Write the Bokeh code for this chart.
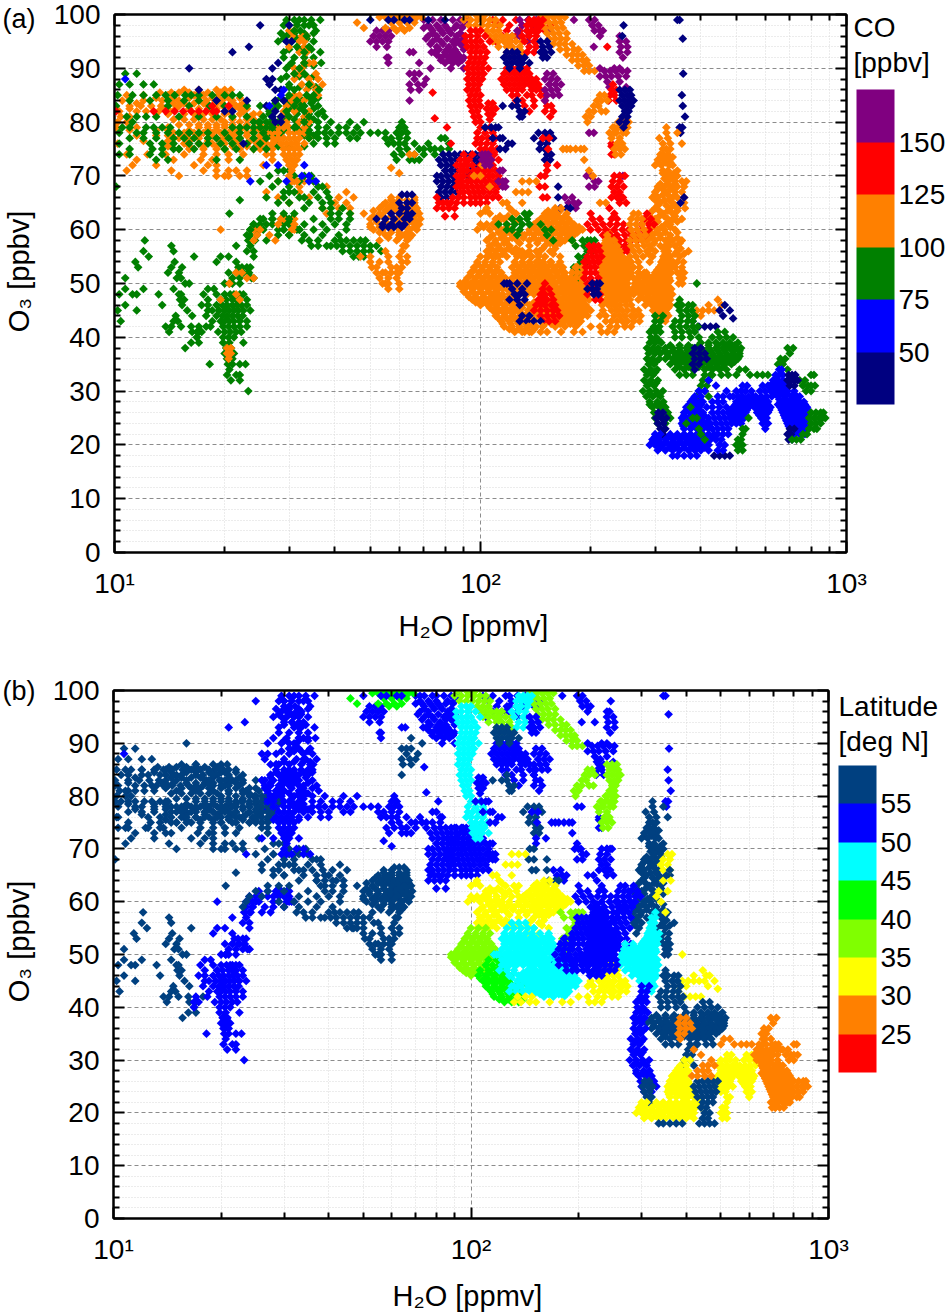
import math
from bokeh.plotting import figure
from bokeh.layouts import column
from bokeh.embed import file_html
from bokeh.resources import INLINE
from bokeh.models import (ColumnDataSource, LinearColorMapper, ColorBar, FixedTicker, LinearAxis, LogAxis, Label)
from bokeh.transform import transform

# Readings: each track has a CO value [ppbv], a latitude [deg N]
# and rows of (O3 [ppbv], [H2O ppmv, ...]).
left_fill = [(85.5,[13.3,14.3,15,16,17,18,19.5]),(84.5,[13,14.5,16,17,18.5,20,20.5,22]),(83.5,[11.5,14.5,15.5,16.5,17.5,19,21,22.5]),(82.5,[11,13.7,14.7,16,17,18,19,21,22,23]),(81.5,[14,15.5,16.5,17.5,18.5,20,22,24,25]),(80.5,[14.5,15.5,16.5,17.5,18.5,19.5,21,23,24]),(79.5,[15,16,17,18,19,20,21,23,25,27]),(78.5,[11,13,14,16,18,19,21,22,24,25,27]),(77.5,[11.5,13,14,15.5,17,18.5,20,21,23,25,27]),(76.5,[12,14,16,18,19.5,21.5,23.5,25.5,27.5]),(75.5,[14,16,17.5,19,21,23,25,27])]
column_fill = [(98,[29,31.5,34]),(96.5,[28.5,31,33,35]),(95.5,[29,31.5,33.5]),(93.5,[30,32,34.5]),(92,[29,31,33,35]),(90.5,[30,33,35]),(88.5,[29.5,32,33.5,35]),(86.5,[30,32,34,35.5]),(84.5,[28.5,30,32,34,36]),(83.5,[27.5,30,32,34.5]),(82.5,[27.5,30,32,35]),(81.5,[26.5,29,31.5,34,36]),(80.5,[27,29,31,33,35]),(79.5,[26.5,29,31.5,34]),(78.5,[27,29,32,34]),(77.5,[27,28.5,33,35]),(75.5,[28,30,33])]
blob60_fill = [(65.5,[57,60,63,66]),(64.5,[54,57,60,63,66]),(63.5,[51,55,58,61,64,67]),(62.5,[51,54,57,60,63,66]),(61.5,[52,55,58,61,64,67]),(60.5,[50,53,60,63,66]),(59.5,[53,57,60,63]),(58.5,[56,60,64])]
big_purple_fill = [(97.5,[70,73,77,81,85,89]),(96.5,[74,79,83,88]),(95.5,[71,76,81,86,90]),(94.5,[73,79,85,88]),(93.5,[77,81,85,90]),(92.5,[76,80,84,87]),(91.5,[78,82,86,89])]
low_cyan_fill = [(53.5,[125,131,137,143,149,156,164]),(52.5,[127,133,139,145,151,158,166]),(51.5,[125,131,137,143,149,155,162,169]),(50.5,[127,133,139,145,151,157,164,172]),(49.5,[123,129,135,141,147,153,160,168]),(48.5,[125,131,137,143,153,159,166,174]),(47.5,[158,163,169,176,185]),(46.5,[125,132,140,147,153,159,166,174,182,190]),(45.5,[130,139,145,151,157,163,169,175,182,189,196]),(44.5,[135,142,149,155,161,167,173,180,187,193]),(43.5,[136,144,152,159,166,173,179,185]),(42.5,[150,156,165,176,185])]
low_blue_fill = [(59.5,[225]),(58.5,[223,229]),(57.5,[219,225,232]),(56.5,[220,228,236]),(55.5,[219,225,232,240]),(54.5,[216,224,232,240,248]),(53.5,[186,218,226,234,242,250]),(52.5,[180,187,216,224,232,240,248]),(51.5,[179,185,218,226,234,242,250]),(50.5,[176,184,216,224,232,240,248]),(49.5,[172,180,188,210,218,226,234,242,250]),(48.5,[172,180,188,218,226,234,242,252]),(47.5,[180,188,195,224,232,240,248]),(46.5,[218,228])]
cyan_right_fill = [(55.5,[320]),(54.5,[316,324]),(53.5,[312,320,329]),(52.5,[304,316,326]),(51.5,[274,286,298,310,322]),(50.5,[270,282,294,306,318,330]),(49.5,[266,278,290,302,314,326]),(48.5,[268,280,292,304,316,328]),(47.5,[276,288,300,312,324]),(46.5,[288,300,312,324]),(45.5,[302,314,326]),(44.5,[310,322])]
steel_fill = [(75,[315,322,330]),(73.5,[312,326,335]),(72.5,[306,320,330]),(70.5,[315,328,338]),(69.5,[318,332]),(68.5,[310,325,340]),(67.5,[305,315,330]),(66.5,[300,315,325]),(65.5,[300,318,328]),(64.5,[305,322,340]),(63.5,[295,308,325,345]),(62.5,[290,308,318,340]),(61.5,[288,305,330,345]),(60.5,[295,312,330]),(59.5,[290,302,320,345]),(58.5,[292,310,328,345]),(57.5,[298,325,350]),(56.5,[292,318,352]),(55.5,[288,340,360])]
low_yellow_fill = [(63.5,[103,122,153,159,165]),(62.5,[113,119,149,155,162,170]),(61.5,[112,125,143,152,160,168,176]),(60.5,[102,110,118,140,147,154,162,170,178,186]),(59.5,[112,120,128,136,144,152,160,168,176,184]),(58.5,[106,114,122,131,140,148,156,165,174]),(57.5,[109,116,128,143,155,165]),(56.5,[107,113,119,125,148,160]),(55.5,[106,110,115,125,134,144,158])]
low_lime_fill = [(53.5,[98,103,108]),(52.5,[96,101,106,111]),(51.5,[94,99,104,109,114]),(50.5,[91,96,101,106,111,116]),(49.5,[88,92,97,102,107,112,117]),(48.5,[90,95,100,105,110]),(47.5,[93,97,102,107]),(46.5,[97,102,107])]
low_green_fill = [(47.5,[109,115,121]),(46.5,[107,113,119,125]),(45.5,[106,111,117,123]),(44.5,[111,117,123,129]),(43.5,[112,118,124,130,136]),(42.5,[115,121,127,133,139]),(41.5,[120,127,133,140])]
steel_green_fill = [(38.5,[330,350,370,395,420,445,470,495]),(37.5,[318,335,350,368,385,405,425,445,465,490,510]),(36.5,[325,345,360,375,395,415,435,455,475,495,510]),(35.5,[340,355,375,395,415,435,455,475,495]),(34.5,[350,370,395,420,440,460])]
bottom_yellow_fill = [(28.5,[380,395,510,525,545,580,600]),(27.5,[372,388,400,498,512,528,548,565,585,605]),(26.5,[368,382,397,485,500,518,535,575,595,615]),(25.5,[360,378,392,408,485,500,520,578,598]),(24.5,[358,372,388,405,495,510,595]),(23.5,[358,378,395,412]),(21.5,[300,312,326,340,355,370,385,400,415,430]),(20.5,[296,308,322,338,352,368,382,398,412]),(19.5,[310,328,342,360,378,392,410])]
bottom_orange_fill = [(31.5,[635,655,675]),(30.5,[625,645,665,685]),(29.5,[640,660,690,720]),(28.5,[655,675,705,730]),(27.5,[650,675,700,725,750,770]),(26.5,[665,690,715,740,765,785]),(25.5,[675,700,725,750,775]),(24.5,[685,710,735,760,785]),(23.5,[695,720,745,770]),(22.5,[710,735,760])]
column_right_fill = [(41.5,[295,305]),(39.5,[295,306]),(37.5,[290,305]),(35.5,[290,302]),(33.5,[288,300]),(31.5,[290,302]),(29.5,[290,304]),(27.5,[290,302,314]),(25.5,[305,322])]
left_scatter = [(58,[12.1]),(57,[14.3]),(56,[12,14.5]),(55,[12.4,16.5]),(54,[11.4,14.6]),(53,[11.6,14.3,15.3]),(52,[14,15]),(51,[10.7,14.8,15.2]),(50,[15.6,16]),(49,[10.7,12,14.5]),(48,[10.3,11.2,11.5,13.2,15,15.2]),(47,[15.1,15.5]),(46,[10.7,13.5,15.3]),(45,[10.2,11.5,15.8]),(44,[14.7,16.3]),(43,[10.4,14.5,14.9]),(42,[13.8,14.3,15.2,16.2,17.8]),(41,[14.1,16.3,17]),(40,[16.8]),(39,[16.2,17]),(38,[15.6]),(68,[10.1])]
left_orange = [(86,[15.5,17,19,20,20.8]),(85,[10.8,12,14,16.5,17.5,19.2,20.3]),(84,[10.5,12,13.5,15,17.8,19.5,21]),(83,[11,11.8,12.6,13.4,15,18,19.8,21.5,22]),(82,[10.3,11.5,12.2,13.2,14.2,20.5,22.5]),(81,[10.4,11,21,23,23.5]),(80,[10.2,10.8,20,22]),(79,[10.1,11.5,14,17,18,19,20,21,22,22.8,26,28,29]),(78,[14.5,15.5,16.5,17.5,18.5,19.5,20.5,21.5,23,24,26,27,28]),(77,[15,16,17,18,19,20,21,22,24,25,26,27,28]),(76,[10.2,15.5,17,18.5,20,21,22,23,24.5,26,27]),(75,[15,16,17.5,19,20,22,24,25,26,27]),(74,[10.8,12.3,13.8,15.5,17.5,19,20.5,22.5,26,27]),(73,[11.5,14.5,17.2,18.5,20.5,27]),(72,[11.2,13,16.5,18,19,25.5]),(71,[10.8,14.3,17.5,19,20.5,21.5,23]),(70,[15,19,20,20.5,22,23])]
left_green = [(89,[10.7,11.5]),(87,[10.3,11,12,12.8]),(85,[10.2,11.2,12,13,13.8,14.6,15.6,16.2,17,18.5,20,21,22]),(84,[11,12.5,14,15.5,17,19]),(83,[10.1,14,16,18.2,20,23,25]),(81,[10.8,11.5,12.2,13,15,17,19,21,23,25.5]),(80,[11.2,24,24.8,25,26,27]),(79,[10.5,11,12.2,12.8,13.5,14.2,21,22,23,24,25,26,27]),(78,[10.3,11.5,12,13,14,15,16,17,18,20,22,24,25.5]),(77,[11,12,13,14.5,15.5,16.5,18,19,20.5,22,24,26]),(76,[10.3,12.5,13.5,14.5,16,17,18,19.5,21,23,25]),(75,[11,12.7,13.5,14.5,15,16.5,20,21.5,24,26]),(74,[10.3,11,12.5,13.5]),(73,[13,14,19,22])]
left_red = [(82,[12.8,13.8,14.6,15.4,16.2,17,17.8,18.6,19,10.1]),(83,[18.5,20.5])]
left_navy = [(90,[16]),(86,[17]),(84,[19,23]),(82,[20,21]),(76,[22.5])]
column_navy = [(98,[25,30]),(95,[30.5,29.5]),(94,[23.3]),(93,[21]),(91,[28]),(90,[27]),(88,[26,27]),(87,[26.5]),(86,[27.5,28.5]),(84,[27.5,29]),(83,[26]),(82,[27.5]),(81,[27,28.5]),(80,[27.5,28.5])]
column_green = [(99,[29.5,31,32,33,34.5,36.5]),(98,[30,33,35]),(97,[31,32.2,35.5]),(96,[29.5,33.5]),(95,[28,30.5,35]),(94,[31.5,34]),(93,[29,33,36.5]),(91,[30.5,33,36.7]),(90,[29.5,32]),(89,[31,33]),(88,[28.5]),(87,[30,34]),(86,[28.5,31,36.2]),(85,[30,33.5,35]),(84,[27.5,29,31.5,35]),(83,[26,28,31,33,36]),(82,[26.5,29.5,33,37]),(81,[27,30,34,37.5]),(80,[28,33,36,39]),(79,[27,31,36,38])]
column_orange = [(97,[30,31]),(96,[30.5,32.5,33.5]),(95,[32,33]),(94,[30,33]),(93,[32,33.5]),(91,[33,34,35]),(90,[31,32.5]),(89,[31,32,35.5]),(88,[31,34,36]),(87,[32.5,34.5,37]),(86,[33.5,35.5]),(85,[31,32,36]),(84,[30.5,31.5,33]),(83,[29.5,31]),(82,[29,31,34]),(81,[28.5,30,33]),(80,[27.5,29.5,32,34]),(79,[28,30,33]),(78,[28,30,31,32,33]),(77,[29,30,31,32,34]),(76,[28.5,29.5,30.5,31.5,33]),(75,[29,30,31,32]),(74,[29,30,31,32]),(73,[29.5,30.5,31.5]),(72,[30,31]),(71,[30.5]),(70,[30]),(69,[30.5,31.5])]
column_blue = [(88,[10.7]),(86,[29]),(83,[26.5]),(72,[26,28,33]),(69,[23.5,29.5,34,35.5]),(70,[32.5,34]),(85,[28.5])]
band78 = [(80,[44,48,61]),(79,[41,43,46,60,62]),(78,[34,36,37.5,39,41,43,45,47,50,52.5,55,59,61,63]),(77,[34,36,38,40,44,46,55,57,60,63,78,80]),(76,[35,38,40,56,58,60,62,66,72,82]),(75,[60,63,68,70,73,75,78,82]),(74,[58,61,66,70,75]),(73,[59,64,66,68])]
band78_orange = [(74,[64,66]),(71.5,[57]),(70.5,[60])]
band78_red = [(80.7,[75]),(79,[81]),(85.5,[74]),(76,[83])]
x20_link = [(62,[25.5,27,28.5,29.5,30.5]),(61,[24,25,27,29,30]),(60,[23.5,24.5,25.5,28,29,31.5,32]),(59,[23.5,24.5,28,30]),(58,[23.2,24.2,26]),(57,[21.5,23.5]),(56,[23,24]),(55,[19.5,20.5,24]),(54,[19,21.5])]
x20_link_orange = [(60,[19.5,24,25,30.5,31]),(59,[24.5,26.5]),(58,[24,27.5]),(62,[28.5,29,31]),(61,[28,31])]
x20_cluster = [(53,[21.8,22.3,23,23.5]),(52,[20.5,21.5,22.5,23.3]),(51,[21,22,23.7,24]),(50,[20,20.6,21,22]),(49,[18,18.7]),(48,[17.5,19,20,20.7,21.2,22,22.5]),(47,[18,19.5,20.2,21,21.5,22,23]),(46,[17.3,18,19,19.7,20.3,21,21.6,22.2,23]),(45,[18,18.5,19.3,20,20.6,21.2,21.8,22.5,23.5]),(44,[17.8,19,19.7,20.3,21,21.7,22.4]),(43,[18.5,19.5,20,20.6,21.2,22,23]),(42,[17,18.3,19.8,20.5,21.2,22,23]),(41,[16.8,17.3,19.2,20,20.7,21.5,22.2]),(40,[16.8,19.8,20.5,21.2]),(39,[19.8,20.6,22.5]),(38,[20.2,20.8]),(37,[20,20.6,21.2]),(36,[20.3,21]),(35,[18.2,20.4,21,22,22.8]),(34,[20.6]),(33,[20.3,21.5,22]),(32,[20.8,22]),(30,[23.2])]
x20_orange = [(52,[21.5,22.3]),(51,[23,24]),(50,[20.6]),(48,[21.5]),(47,[19.5,22]),(38,[20.3,20.8]),(37,[20.3,20.8]),(36,[20.5])]
diag_green = [(71,[28,29,30]),(70,[26.5,31,33,34.5]),(69,[25,28,32,35]),(68,[27,30,36,37]),(67,[29,30,31,35,38]),(66,[26,29,32,33,36,38.5]),(65.5,[22]),(65,[28,30,34,37,39]),(64,[33,37,39,42]),(63,[27,29,31,39,41,44,20.6]),(62,[25,27,30,35,39,41,44]),(61,[24,26,33,37,40,43]),(60,[23.5,29,32,35,38,43]),(59,[23,30,33,37,41])]
diag_orange = [(69,[28,31,33,35]),(68,[32,38]),(67,[26,32,43]),(66,[28,34,41,45]),(65,[30,40,43]),(64,[37,41,44]),(63,[38,44,48])]
band57_green = [(58,[32.5,34,36,40,41.5,43,45,47,48.5]),(57,[34.5,36,38,39,40.5,42,44,46,48,50,52]),(56,[42,44,46,48,50,53.5]),(55,[45,46.5,48])]
tail_orange = [(57,[61.5,62.5]),(56,[55,61]),(55,[47,50,56,60,63]),(54,[50,53,56,61,63]),(53,[50.5,52,57,59,61]),(52,[52,54,55,57,59,60]),(51,[53,56,59]),(50,[54,55,56,60]),(49,[56,60])]
blob60_orange = [(66,[57,60,66]),(65,[55,58,64,66]),(64,[53,56,59,62,65,67]),(63,[53,61,64,66.5,68]),(62,[50,60,66,68.5]),(61,[50,59,62,66,68]),(60,[51,54,60,64,67]),(59,[55,60,62,65]),(58,[53,59,63])]
blob60_navy = [(66.5,[61,63,65]),(65,[60,63,65]),(64,[61,63]),(63,[57,60,63,65]),(62,[52,55,58,62,64]),(61,[54,57,60,62]),(60.5,[54,56,58,61])]
top_purple_left = [(97,[52,54,56]),(96,[51,53,55,57]),(95,[50,52,54,56]),(94,[52,55.5]),(92,[55.5,56]),(91,[56]),(93,[64,65.5,73.5])]
small_purple = [(91,[68]),(90,[73]),(89,[64,66,68]),(88,[66,71]),(87,[64,67.5,70]),(86,[64.5,68]),(84,[64])]
big_purple = [(99,[70,74,78,84,88,92]),(98,[72,76,80,86,90]),(97,[74,78,82]),(96,[72,76,86,90]),(95,[74,78,84,88]),(94,[76,82,90]),(93,[75,80,83,86]),(92,[78,82,85,88,90]),(91,[80,84,87]),(90,[83,90])]
top_row_orange = [(99.5,[53,55,57,59,61,63,65,67,69]),(98.5,[46,57,60,63,66]),(97.5,[48,55,58,61,64]),(97,[59,62])]
top_row_navy = [(99,[50,56,58,62,64,72,80])]
lime_orange = [(100,[92,97,100,103]),(99,[90,94,98,102,106,110]),(98,[93,97,101,105,109,113]),(97,[100,104,108,112]),(96,[106,110,114,118,122]),(95,[108,112,116,120,125,130]),(94,[112,118,122,128]),(93,[118,124,130]),(92,[122,128]),(100.5,[148,154,160,166]),(99.5,[146,152,158,164,170]),(98.5,[148,154,160,166]),(97.5,[150,156,162,168]),(96.5,[152,158,164,172]),(95.5,[154,160,166,172]),(94.5,[158,164,170,178]),(93.5,[165,172,180,185]),(92.5,[172,178,184,190]),(91.5,[178,184,190,195]),(90.5,[185,192,198]),(89.5,[192,198,205])]
red_column = [(97,[94,97,100]),(96,[91,94,98,103]),(95,[91,94,97,100,106]),(94,[92,95,98,102]),(93,[94,97,100,104]),(92,[94,97,100,103]),(91,[93,96,99,102]),(90,[92,95,98,101,105]),(89,[93,96,99,102]),(88,[92,95,98,101]),(87,[93,96,99]),(86,[92,95,98]),(85,[94,97,100]),(84,[93,96,99]),(83,[94,97,100]),(82,[95,98]),(81,[96,99]),(80,[97,100]),(79,[100,106]),(78,[98,103,108]),(77,[98,101,105,110]),(76,[97,100,104,108]),(75,[100,103,107,111]),(74,[101,105,109]),(73,[103,107,112])]
red_col_purple = [(74,[101,103,105]),(73,[101,104,107]),(72,[103,106])]
red_col_navy = [(79,[103,107,110,112]),(77,[108,113,115]),(76,[119,122]),(75,[113,117])]
blob70_navy = [(74,[79,82,85,88,91,94,97,100]),(73,[77,80,83,86,96,99,102]),(72,[78,81,84,98]),(71,[80,83,86,94]),(70,[76,78,81,84,92]),(69,[76,79,82,85]),(68,[78,81,84]),(67,[77,80,83,86]),(66,[78,81])]
blob70_red = [(74,[90,95,103,106]),(73,[88,91,93,104,107]),(72,[86,88,90,92,95,100,103,106,108]),(71,[88,90,92,96,98,100,103,106,110]),(70,[86,88,90,94,96,99,102,105,108,112]),(69,[87,89,92,94,97,100,103,106,110,113]),(68,[86,88,90,92,95,98,101,104,108,112]),(67,[88,90,93,96,99,102,106,110]),(66,[76,84,87,90,94,97,100,104,108,112]),(65,[77,79,81,83,86,90,94,97,100,104]),(64,[76,79,82,85]),(62.5,[80,85])]
blob70_orange = [(72,[101]),(70,[96,100]),(68,[106])]
blob70_purple = [(71,[113,115]),(69,[112,115,117]),(68,[115,117])]
red_blob2 = [(90,[118,122,126,130,134]),(89,[116,120,124,128,132,136]),(88,[114,118,122,126,130,134,138,142]),(87,[116,120,124,128,132,136,140,144]),(86,[118,122,126,130,138,142,146]),(85,[122,126,134,138,146,150]),(84,[125,130,140,150]),(83,[132,140,152,156]),(82,[136,150,158]),(81,[155]),(83.5,[105,108]),(82.5,[104,107,110]),(81.5,[105,108]),(80.5,[106])]
red_top = [(99,[108,115,125,135,150]),(98,[112,120,130,145,155]),(97,[118,128,140,150]),(96,[115,125,135]),(95,[110,120,142])]
purple_top = [(99,[128,135,142,150]),(98,[130,138,146]),(97,[126,134,155]),(96,[122,128]),(95,[135])]
cyan_top = [(99,[136,140,144,148]),(98,[134,138,142,146]),(97,[134,138,144]),(96,[130,136,142]),(95,[132,140]),(94,[136,142]),(93,[134,140])]
navy_steel = [(93,[118,122,126]),(92,[116,120,124,128,132]),(91,[118,122,126,130,136]),(90,[120,128]),(84,[126]),(83,[115,122,126]),(82,[128,132]),(81,[128,130]),(78,[144,150,155]),(77,[140,148,152,158]),(76,[146,152]),(75,[145,150]),(74,[152,156]),(73,[150,155]),(68,[163]),(66,[163]),(64,[165,172,176])]
navy_blue = [(95,[146,152]),(94,[148,154]),(93,[146,150,156]),(92,[148,152]),(98,[246]),(96,[244]),(99,[345,350]),(95.5,[357]),(89,[358]),(85,[355]),(83,[357]),(81,[362]),(79,[350,356]),(78,[352])]
purple_side = [(89,[152,158]),(88,[150,156,162]),(87,[154,160,166]),(86,[150,156,162]),(85,[152,158,164]),(84,[150]),(70,[195,200,240,245]),(69,[205,210]),(68,[198,205]),(66,[238,242,170,178]),(65,[174,180,185]),(64,[172,182]),(99,[198,205,180]),(98,[202,210]),(97,[205,212,216]),(96,[212,240]),(95,[240,250]),(94,[204,242,252]),(93,[240,252]),(92,[245]),(90,[212,232,240]),(89.5,[218,226,234,244,252]),(88.5,[212,220,228,238,250]),(87.5,[222,240]),(86.5,[225,250]),(78,[198,204])]
red_mid = [(94,[222]),(87,[230]),(86,[228,235]),(85,[226,232]),(84,[224,235]),(77,[148,154]),(75,[153]),(74,[228,232]),(75.5,[228]),(76,[228]),(72,[152,162]),(71,[152]),(70,[232,240,248]),(69,[230,240]),(68,[228,236,246]),(67,[232,240]),(66,[228,236,245]),(65,[240,250])]
red_mid_steel = [(70,[146,150]),(68,[145,150]),(66,[148,152])]
orange_loop = [(75,[168,172,176,182,188,192]),(73,[192]),(71,[198]),(70,[203]),(65,[212,220])]
lime_right = [(85,[212,218]),(84,[208,214,222]),(83,[204,210]),(82,[198,204,214,220]),(81,[194,200]),(80,[196,238,248,254]),(79,[230,238,232,242,252]),(78,[225,232,235,245,250]),(77,[228,240]),(76,[236,244]),(75,[232,240,248]),(74,[234,242])]
navy_lime = [(86,[240,248,256]),(85,[244,252,258]),(84,[240,248,256,262]),(83,[244,252,258]),(82,[248,254]),(81,[244,252]),(80,[240,250]),(79,[246])]
low_yellow = [(69,[130,136,142]),(67,[125,130,135]),(65,[115,118,130]),(64,[104,120,160,166]),(63,[100,106,125,150,156,162,172]),(62,[110,116,122,146,152,158,166,174]),(61,[100,104,108,118,140,148,156,164,172,180]),(60,[98,106,114,122,136,142,150,158,166,174,182,190]),(59,[108,116,124,132,140,148,156,164,172,180]),(58,[104,110,118,126,136,144,152,160,170,178]),(57,[106,112,120,136,150,160]),(56,[104,110,116,122,128,145,155]),(55,[104,108,112,118,130,138,150,165]),(54,[145,155])]
low_yellow_green = [(63,[132,136]),(62,[122,128,134]),(61,[112,118,124,130,136,146]),(60,[118,122,128,150,156]),(59,[126,152]),(58,[158])]
low_lime_green = [(58,[178,190,196,200,205]),(57,[182,192,200,205]),(56,[196,202]),(55,[185,192]),(54,[188,195]),(53,[180,190]),(52,[180,186]),(51,[186,192])]
low_lime = [(55,[100,105,110]),(54,[98,103,108,113]),(53,[96,101,106,111]),(52,[94,99,104,109,114]),(51,[92,97,102,107,112,117]),(50,[88,90,94,99,104,109,114,118]),(49,[90,95,100,105,110,115]),(48,[92,97,102,107,112]),(47,[95,100,105,110]),(46,[100,105])]
low_green = [(50,[116,120]),(49,[112,118,122]),(48,[110,115,120,124]),(47,[106,112,118,124]),(46,[105,110,116,122,128]),(45,[108,114,120,126]),(44,[110,116,122,128,134,138]),(43,[114,120,126,132]),(42,[116,122,128,134,140]),(41,[124,130,136])]
low_cyan = [(56,[130,136,142]),(55,[126,132,138,144,150]),(54,[124,130,136,142,148,156,165]),(53,[122,128,134,140,146,152,160,168]),(52,[124,130,136,142,148,154,162,170]),(51,[122,128,134,140,146,152,158,166,172]),(50,[124,130,136,142,148,154,160,168,176]),(49,[126,132,138,144,150,156,164,172]),(48,[122,128,134,140,146,150,156,162,170,178,184]),(47,[160,166,172,180,190]),(46,[128,136,144,150,156,162,170,178,186,194]),(45,[135,142,148,154,160,166,172,178,186,192,200]),(44,[132,138,146,152,158,164,170,176,184,190,196]),(43,[140,148,156,162,170,176,182,188]),(42,[160,170,182])]
low_cyan_red = [(50,[150]),(49,[148,154]),(48,[146,150,156]),(47,[144,148,152,158]),(46,[142,146,150,156,160]),(45,[140,146,152,158,162]),(44,[146,152,158,164]),(43,[148,154,160])]
low_cyan_navy = [(50,[116,118,120,126,134]),(49,[122,130]),(48,[124,128,132]),(47,[120,126,132]),(46,[128]),(44,[130,136]),(43,[128,134,140,146])]
low_blue_orange = [(59,[222]),(58,[220,226,232]),(57,[216,222,228,236]),(56,[216,224,232,240]),(55,[216,222,228,236,244]),(54,[212,220,228,236,244,252]),(53,[182,190,214,222,230,238,246,254]),(52,[178,184,190,212,220,228,236,244,252]),(51,[176,182,188,214,222,230,238,246,254]),(50,[172,180,188,212,220,228,236,244,252]),(49,[176,184,192,206,214,222,230,238,246,254]),(48,[176,184,192,214,222,230,238,246,256]),(47,[185,192,198,220,228,236,244,252]),(46,[215,224,232])]
low_blue_red = [(57,[198,204,210]),(56,[200,206,212]),(55,[196,202,208,214]),(54,[192,198,204,210]),(53,[194,200,206]),(52,[194,200,206]),(51,[192,200,210]),(50,[196,204]),(49,[198,206]),(48,[196,204,212]),(47,[206,212])]
low_blue_navy = [(50,[202,208,212]),(49,[196,202,208]),(48,[204,210])]
upper_red = [(64,[225]),(63,[200,232,285]),(62,[202,212,228,236,280,292]),(61,[196,206,216,226,236,246,275,288,298]),(60,[200,210,220,232,244,254,268,278,288]),(59,[216,226,236,248,258,266,272,282]),(58,[232,240,250,258,268]),(57,[240,248,256]),(56,[246,252])]
blue_column_orange = [(63,[262,270]),(62,[258,268,276]),(61,[256,266,276]),(60,[258,268,280]),(59,[262,272,282]),(58,[256,266,276]),(57,[258,268,280]),(56,[262,272]),(55,[256,266,278]),(54,[258,270]),(53,[262,272]),(52,[258,270,280]),(51,[262])]
steel_orange = [(79,[322]),(78,[322,345]),(77,[308,325]),(76,[315,330,355]),(74,[310,316,325]),(73,[305,318]),(72,[300,312,328,335]),(71,[315,325,345]),(70,[322,335,345]),(69,[325,340]),(68,[305,318,335]),(67,[300,320]),(66,[295,305,335]),(65,[310,335,360]),(64,[300,330]),(63,[315,335]),(62,[285,300,325]),(61,[296,320]),(60,[288,305,318]),(59,[295,310,330]),(58,[285,300,320,335,355]),(57,[290,310,340]),(56,[285,300,345,370]),(55,[295,330,350]),(54,[290,345,358]),(53,[340,355]),(52,[345,352,360]),(51,[350,358]),(50,[348,356])]
yellow_orange = [(69,[355,365]),(68,[345,360]),(67,[340,355]),(66,[345,360]),(64,[345,362]),(62,[335,355]),(61,[330]),(60,[340]),(58,[350])]
navy_steel_right = [(66,[360]),(65,[352])]
cyan_right = [(58,[328]),(57,[320,328]),(56,[318,326]),(55,[316,324]),(54,[312,320,328,336]),(53,[308,316,324,334]),(52,[270,284,300,312,322,332]),(51,[268,280,292,304,316,328]),(50,[264,276,288,300,312,324]),(49,[260,272,284,296,308,320,332]),(48,[262,274,286,298,310,322,334]),(47,[270,282,294,306,318,330]),(46,[282,294,306,318,330]),(45,[296,308,320]),(44,[304,316,326]),(43,[310,320])]
yellow_base = [(48,[244,252]),(47,[236,246,256]),(46,[224,232,240,250,258]),(45,[216,228,236,244,252,262,270]),(44,[212,220,232,240,248,258,266,274]),(43,[220,228,236,244,252,262,272]),(42,[135,142,148,200,212,226,236,248,258]),(41,[132,138,146,152,166,180,190,214,222,232])]
yellow_ext_orange = [(45,[390,405,420,435]),(44,[385,400]),(47,[445]),(46,[420,455])]
yellow_ext_navy = [(46,[465]),(45,[450,480]),(44,[460]),(43.5,[490]),(42,[395,410,425,440]),(43,[380])]
dot_green = [(50,[390])]
steel_green = [(47,[350]),(46,[345,355,370,380]),(45,[350,365,378]),(44,[355,370,385]),(43,[340,352,368,380]),(42,[335,350,365,380,392]),(41,[340,355,372,385,445,465]),(40,[340,355,375,395,430,450,470,490]),(39,[400,420,440,460,480,505]),(38,[320,335,350,365,380,400,420,440,460,480,500,515]),(37,[310,325,340,355,370,390,410,430,450,470,490,510]),(36,[320,335,350,365,385,405,425,445,465,485,505]),(35,[330,345,365,385,405,425,445,465,485]),(34,[340,360,380,410,430,450,470]),(33,[350,365,380,410,425,430,455,475]),(32,[405,420]),(31,[400,415]),(30,[395,410]),(29,[390,420])]
orange_lat_navy = [(38,[385,400]),(37,[380,395,410]),(36,[385,400,415]),(35,[380,395]),(34,[385])]
orange_lat_green = [(38,[690,715]),(37,[700]),(36,[660,680]),(35,[650,670]),(34,[510,530,690]),(33,[500,545,570,590,610,800,815]),(32,[745,770]),(31,[760,785,800,820]),(30,[775,800])]
column_right_green = [(44,[300,315]),(43,[300,310]),(42,[298,308]),(41,[290,300,310]),(40,[292,302]),(39,[290,300,312]),(38,[285,296,306]),(37,[288,300]),(36,[285,295,308]),(35,[288,298]),(34,[280,292,304]),(33,[285,296]),(32,[280,292,305]),(31,[285,298]),(30,[278,290,302,315]),(29,[284,296,310]),(28,[290,304,316]),(27,[295,308,320]),(26,[298,312,325]),(25,[300,315,330]),(24,[305,320])]
bottom_navy = [(26,[306,315]),(25,[302,312,322]),(24,[305,316]),(23,[310,320]),(22,[315]),(18,[435,450,465,480])]
bottom_yellow = [(31,[520,535,590,610,620]),(30,[395,410,500,515,530,550,580,600,620]),(29,[385,400,490,505,520,540,555,565,585,605,625]),(28,[375,390,405,500,515,530,550,565,570,590,610]),(27,[365,380,395,490,505,520,540,560,580,600,620]),(26,[360,375,390,405,480,495,515,530,570,590,610]),(25,[355,370,385,400,490,505,525,585,605]),(24,[355,370,385,400,415,500,515,590,610]),(23,[360,375,390,405,420,600]),(22,[300,310,330,345,360,375,390,405,420,435]),(21,[295,305,320,335,350,365,380,395,410,425,440]),(20,[290,300,315,330,345,360,375,390,405,420]),(19,[305,320,335,350,370,385,400,420])]
bottom_steel = [(26,[430,445,460,475,490]),(25,[420,435,450,465,480]),(24,[425,440,455,470,485]),(23,[430,445,460,475]),(22,[445,460,475]),(21,[440,455]),(20,[450,465]),(19,[445,460]),(18,[335,345,360,375,390])]
bottom_green_yellow = [(27,[375]),(25,[380,390,540]),(24,[365]),(23,[395,520,530]),(22,[400,520]),(21,[410,505,515]),(20,[500,510,520]),(19,[505,520])]
bottom_orange = [(34,[655,665]),(33,[640,655,670]),(32,[420,630,650,670,690]),(31,[440,620,640,660,680]),(30,[470,630,650,670,690,720]),(29,[445,460,480,650,680,710,730,745]),(28,[430,445,460,660,690,720,745,765]),(27,[415,430,450,470,660,685,710,735,760,780]),(26,[670,695,720,745,770,790]),(25,[680,705,730,755,775]),(24,[690,715,740,765,790]),(23,[705,730,755,780]),(22,[720,745,770])]
bottom_orange_navy = [(33,[695,710,725]),(32,[690,705,720,735]),(31,[700,720]),(23,[700,720]),(22,[690,705]),(21,[695,710])]
bottom_orange_green = [(26,[800,825,850,865]),(25,[790,815,840,860,875]),(24,[800,825,850]),(23,[790,815,830]),(22,[760,780]),(21,[710,730,750])]

# track, CO [ppbv], latitude [deg N]
tracks = [
    (left_fill,110,57),(column_fill,90,52),(blob60_fill,110,57),(big_purple_fill,160,52),(low_cyan_fill,110,47),(low_blue_fill,110,52),
    (cyan_right_fill,110,47),(steel_fill,110,57),(low_yellow_fill,110,32),(low_lime_fill,110,37),(low_green_fill,110,42),
    (steel_green_fill,90,57),(bottom_yellow_fill,60,32),(bottom_orange_fill,60,27),(column_right_fill,90,52),
    (left_orange,110,57),(left_green,90,57),(left_red,135,57),(left_navy,40,57),(left_scatter,90,57),
    (x20_cluster,90,52),(x20_orange,110,52),(x20_link,90,52),(x20_link_orange,110,52),
    (diag_orange,110,57),(diag_green,90,57),(column_orange,110,52),(column_green,90,52),(column_navy,40,52),(column_blue,60,52),
    (band78,90,52),(band78_orange,110,52),(band78_red,135,52),
    (band57_green,90,57),(tail_orange,110,57),(blob60_orange,110,57),(blob60_navy,40,57),
    (top_purple_left,160,52),(small_purple,160,57),(big_purple,160,52),(top_row_orange,110,42),(top_row_navy,40,52),
    (blob70_navy,40,52),(blob70_red,135,52),(blob70_orange,110,52),(blob70_purple,160,52),
    (red_top,135,52),(purple_top,160,52),(lime_orange,110,37),(cyan_top,135,47),(red_column,135,47),(red_col_purple,160,47),(red_col_navy,40,52),
    (red_blob2,135,52),(purple_side,160,52),(navy_steel,40,57),(navy_blue,40,52),(red_mid,135,52),(red_mid_steel,135,57),(orange_loop,110,52),
    (lime_right,110,37),(navy_lime,40,37),
    (low_yellow,110,32),(low_yellow_green,90,32),(low_lime_green,90,37),(low_lime,110,37),(low_green,110,42),(low_cyan,110,47),(low_cyan_red,135,47),(low_cyan_navy,40,47),
    (steel_orange,110,57),(yellow_orange,110,32),(navy_steel_right,40,57),(upper_red,135,52),(blue_column_orange,110,52),(cyan_right,110,47),(yellow_base,110,32),
    (low_blue_orange,110,52),(low_blue_red,135,52),(low_blue_navy,40,52),
    (yellow_ext_orange,110,32),(yellow_ext_navy,40,32),(dot_green,90,32),(steel_green,90,57),(orange_lat_navy,40,27),(orange_lat_green,90,27),
    (column_right_green,90,52),(bottom_navy,40,57),(bottom_yellow,60,32),(bottom_steel,60,57),(bottom_green_yellow,90,32),(bottom_orange,60,27),(bottom_orange_navy,40,27),(bottom_orange_green,90,27),
]

co_colors = ["#000080","#0000ff","#008000","#ff8000","#ff0000","#800080"]
co_ticks = [50,75,100,125,150]
lat_colors = ["#ff0000","#ff8000","#ffff00","#80ff00","#00ff00","#00ffff","#0000ff","#004080"]
lat_ticks = [25,30,35,40,45,50,55]
o3_ticks = list(range(0,101,10))
o3_minor = [v for v in range(0,101,2) if v%10]
h2o_ticks = [10,100,1000]
h2o_minor = [20,30,40,50,60,70,80,90,200,300,400,500,600,700,800,900]
h2o_labels = {10:"10\u00b9",100:"10\u00b2",1000:"10\u00b3"}

FONT = "Liberation Sans"
H2O, O3, CO, LAT = [], [], [], []
for rows, co, lat in tracks:
    for o3, xs in rows:
        for x in xs:
            H2O.append(x); O3.append(min(o3,100)); CO.append(co); LAT.append(lat)
source = ColumnDataSource(dict(h2o=H2O, o3=O3, co=CO, lat=LAT))

def panel(field, mapper, ticks, fw, fh, left, top, fig_w, fig_h, bar_h, bar_y):
    p = figure(x_axis_type="log", x_range=(10,1000), y_range=(0,100), frame_width=fw, frame_height=fh,
               width=fig_w, height=fig_h, min_border_left=left, min_border_right=fig_w-left-fw,
               min_border_top=top, min_border_bottom=fig_h-top-fh, toolbar_location=None, output_backend="svg",
               background_fill_color="white", outline_line_color="black", outline_line_width=2, frame_align=False)
    xt = FixedTicker(ticks=h2o_ticks, minor_ticks=h2o_minor)
    yt = FixedTicker(ticks=o3_ticks, minor_ticks=o3_minor)
    for g, t in ((p.xgrid[0],xt),(p.ygrid[0],yt)):
        g.ticker = t
        g.grid_line_color = "#8c8c8c"; g.grid_line_dash = "4 3"; g.grid_line_width = 1
        g.minor_grid_line_color = "#d8d8d8"; g.minor_grid_line_dash = "1 2"; g.minor_grid_line_width = 1
    def style(ax, labels=True):
        ax.major_tick_in = 11; ax.major_tick_out = 0; ax.minor_tick_in = 6; ax.minor_tick_out = 0
        ax.major_tick_line_width = 2; ax.minor_tick_line_width = 2; ax.axis_line_width = 2
        ax.major_tick_line_color = "black"; ax.minor_tick_line_color = "black"
        ax.major_label_text_font = FONT; ax.major_label_text_font_size = "28px" if labels else "1px"
        ax.major_label_text_color = "black"
    bx, ly = p.xaxis[0], p.yaxis[0]
    bx.ticker = xt; ly.ticker = yt
    style(bx); style(ly)
    bx.major_label_overrides = h2o_labels
    bx.major_label_standoff = 15
    ly.major_label_standoff = 14
    ax_r = LinearAxis(ticker=yt, major_label_overrides={v:"" for v in o3_ticks}); style(ax_r, False); ax_r.major_label_standoff = 0
    ax_t = LogAxis(ticker=xt, major_label_overrides={v:"" for v in h2o_ticks}); style(ax_t, False); ax_t.major_label_standoff = 0
    p.add_layout(ax_r, "right"); p.add_layout(ax_t, "above")
    p.scatter("h2o","o3",source=source,marker="square",size=6.2,angle=math.pi/4,
              fill_color=transform(field,mapper),line_color=None)
    cb = ColorBar(color_mapper=mapper, ticker=FixedTicker(ticks=ticks), width=38, height=bar_h,
                  location=(fw+10, bar_y), padding=0, margin=0, major_tick_line_color=None, minor_tick_line_color=None,
                  bar_line_color=None, background_fill_color=None, border_line_color=None, major_label_text_font=FONT,
                  major_label_text_font_size="28px", major_label_text_color="black", label_standoff=4)
    p.add_layout(cb)
    return p

co_map = LinearColorMapper(palette=co_colors, low=25, high=175)
lat_map = LinearColorMapper(palette=lat_colors, low=20, high=60)

pa = panel("co", co_map, co_ticks, 732, 538, 114, 14, 945, 660, 315, 148)
pb = panel("lat", lat_map, lat_ticks, 715, 528, 113, 30, 945, 654, 307, 146)

# Transparent layer over the whole page that carries the texts outside the frames (labels are clipped to a frame).
layer = figure(width=945, height=1314, x_range=(0,945), y_range=(1314,0), min_border=0, toolbar_location=None,
               output_backend="svg", x_axis_location=None, y_axis_location=None, background_fill_color=None,
               border_fill_color=None, outline_line_color=None, margin=(-1314,0,0,0), frame_align=False)
layer.grid.visible = False
page_texts = [("(a)",2,18,27,0,"left"),("CO",853,27,28,0,"left"),("[ppbv]",853,62,28,0,"left"),
              ("H\u2082O [ppmv]",398,625,29,0,"left"),("O\u2083 [ppbv]",18,271,29,math.pi/2,"center"),
              ("(b)",2,690,27,0,"left"),("Latitude",838,706,28,0,"left"),("[deg N]",838,741,28,0,"left"),
              ("H\u2082O [ppmv]",392,1295,29,0,"left"),("O\u2083 [ppbv]",18,941,29,math.pi/2,"center")]
for s,x,y,size,ang,al in page_texts:
    layer.add_layout(Label(x=x,y=y,text=s,text_font=FONT,text_font_size=f"{size}px",text_color="black",
                           text_baseline="middle",text_align=al,angle=ang))

page = column(pa, pb, layer, spacing=0)
open("out.html","w").write(file_html(page, INLINE))
